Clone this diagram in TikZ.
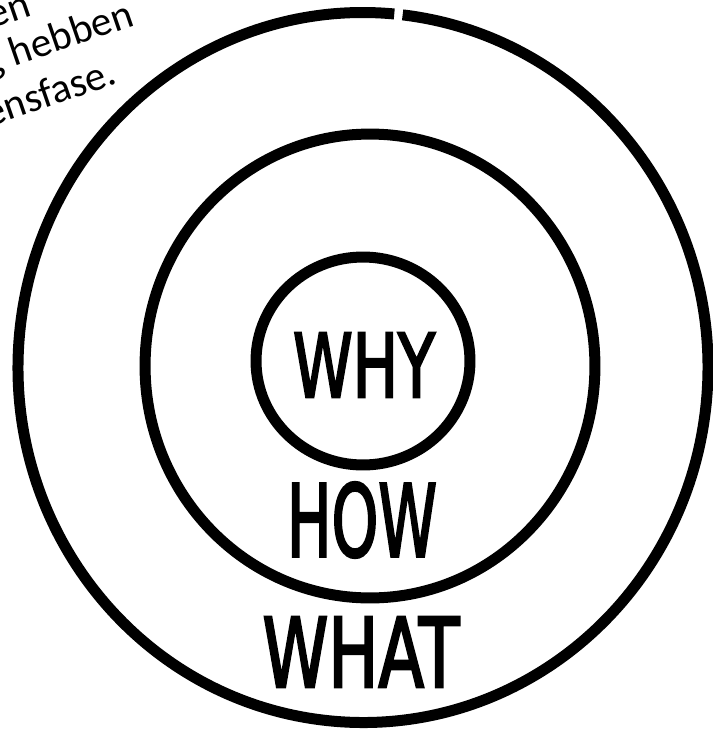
\documentclass[tikz,border=0pt]{standalone}
\usepackage{fontspec}
\setmainfont{Carlito}
\newfontfamily\handfont{DejaVu Sans}[FakeBold=3]
\usetikzlibrary{shapes.geometric}
\newcommand{\handword}[3]{\resizebox{#1}{#2}{\handfont #3}}

\begin{document}
\begin{tikzpicture}[x=0.02cm,y=-0.02cm,
    rim/.style={draw=black,line width=0.22cm},
    ring/.style={rim,ellipse,inner sep=0pt},
    word/.style={inner sep=0pt},
    note/.style={font=\fontsize{23.5}{28}\selectfont,rotate=19,
                 inner sep=0pt,anchor=base east}]
  \useasboundingbox (0,0) rectangle (713,731);
  \clip (0,0) rectangle (713,731);

  % rings
  \coordinate (hub) at (363,367.5);
  \draw[rim] (hub) ++(-83.4:345 and 355)
    arc[start angle=-83.4,end angle=275.2,x radius=345,y radius=355];
  \node[ring,minimum width=9cm,minimum height=9.28cm] (howring) at (370,366) {};
  \node[ring,minimum width=4.28cm,minimum height=4.16cm] (whyring) at (363,361) {};

  % words
  \node[word] (why) at (364,365) {\handword{2.84cm}{1.28cm}{WHY}};
  \node[word] (how) at (362,520) {\handword{3.0cm}{1.48cm}{HOW}};
  \node[word] (what) at (361,652) {\handword{3.94cm}{1.4cm}{WHAT}};

  % cut-off caption
  \node[note] (line1) at (33,15) {en};
  \node[note] (line2) at (136,25) {g hebben};
  \node[note] (line3) at (119,83) {ensfase.};
\end{tikzpicture}
\end{document}
